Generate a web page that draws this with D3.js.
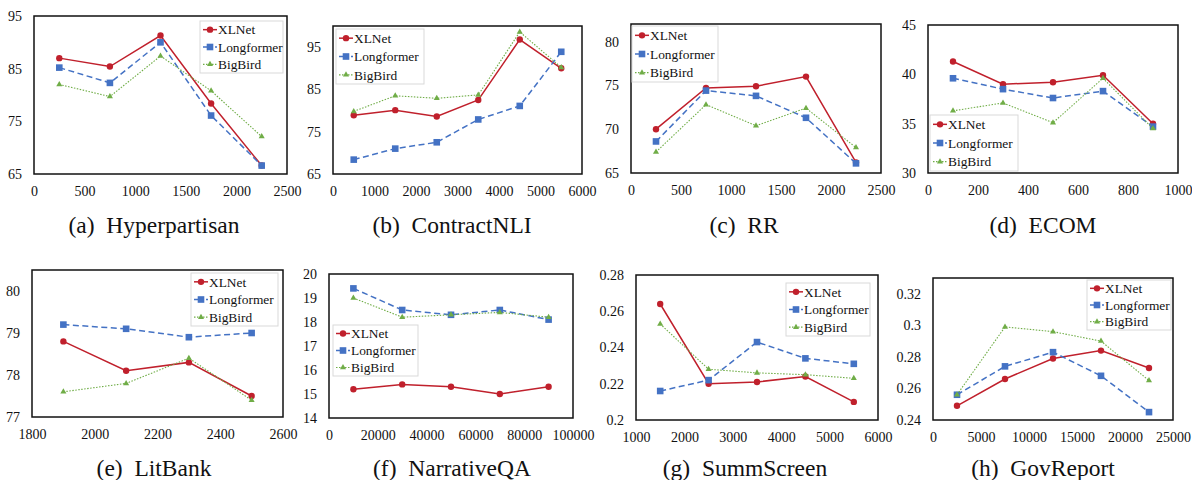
<!DOCTYPE html>
<html>
<head>
<meta charset="utf-8">
<script src="https://cdn.jsdelivr.net/npm/d3@7"></script>
<style>
  body { margin: 0; background: #fff; }
  svg { display: block; }
  svg text { font-family: 'Liberation Serif', 'Times New Roman', Times, 'DejaVu Serif', serif; }
</style>
</head>
<body>
<script>
const series = ['XLNet', 'Longformer', 'BigBird']

// (a) Hyperpartisan
const aX = [250, 750, 1250, 1750, 2250]
const aXLNet = [87.0, 85.4, 91.3, 78.4, 66.6]
const aLongformer = [85.2, 82.3, 90.0, 76.1, 66.6]
const aBigBird = [82.0, 79.7, 87.4, 80.8, 72.1]
const aXTicks = [0, 500, 1000, 1500, 2000, 2500]
const aYTicks = [65, 75, 85, 95]

// (b) ContractNLI
const bX = [500, 1500, 2500, 3500, 4500, 5500]
const bXLNet = [78.9, 80.1, 78.6, 82.5, 96.8, 90.0]
const bLongformer = [68.4, 71.0, 72.5, 77.9, 81.1, 93.9]
const bBigBird = [79.8, 83.5, 82.9, 83.7, 98.6, 90.2]
const bXTicks = [0, 1000, 2000, 3000, 4000, 5000, 6000]
const bYTicks = [65, 75, 85, 95]

// (c) RR
const cX = [250, 750, 1250, 1750, 2250]
const cXLNet = [70.0, 74.7, 74.9, 76.0, 66.2]
const cLongformer = [68.6, 74.4, 73.8, 71.3, 66.1]
const cBigBird = [67.4, 72.8, 70.4, 72.4, 67.9]
const cXTicks = [0, 500, 1000, 1500, 2000, 2500]
const cYTicks = [65, 70, 75, 80]

// (d) ECOM
const dX = [100, 300, 500, 700, 900]
const dXLNet = [41.3, 39.0, 39.2, 39.9, 35.0]
const dLongformer = [39.6, 38.5, 37.6, 38.3, 34.7]
const dBigBird = [36.3, 37.1, 35.1, 39.6, 34.5]
const dXTicks = [0, 200, 400, 600, 800, 1000]
const dYTicks = [30, 35, 40, 45]

// (e) LitBank
const eX = [1900, 2100, 2300, 2500]
const eXLNet = [78.8, 78.1, 78.3, 77.5]
const eLongformer = [79.2, 79.1, 78.9, 79.0]
const eBigBird = [77.6, 77.8, 78.4, 77.4]
const eXTicks = [1800, 2000, 2200, 2400, 2600]
const eYTicks = [77, 78, 79, 80]

// (f) NarrativeQA
const fX = [10000, 30000, 50000, 70000, 90000]
const fXLNet = [15.2, 15.4, 15.3, 15.0, 15.3]
const fLongformer = [19.4, 18.5, 18.3, 18.5, 18.1]
const fBigBird = [19.0, 18.2, 18.3, 18.4, 18.2]
const fXTicks = [0, 20000, 40000, 60000, 80000, 100000]
const fYTicks = [14, 15, 16, 17, 18, 19, 20]

// (g) SummScreen
const gX = [1500, 2500, 3500, 4500, 5500]
const gXLNet = [0.264, 0.220, 0.221, 0.224, 0.210]
const gLongformer = [0.216, 0.222, 0.243, 0.234, 0.231]
const gBigBird = [0.253, 0.228, 0.226, 0.225, 0.223]
const gXTicks = [1000, 2000, 3000, 4000, 5000, 6000]
const gYTicks = [0.2, 0.22, 0.24, 0.26, 0.28]

// (h) GovReport
const hX = [2500, 7500, 12500, 17500, 22500]
const hXLNet = [0.249, 0.266, 0.279, 0.284, 0.273]
const hLongformer = [0.256, 0.274, 0.283, 0.268, 0.245]
const hBigBird = [0.256, 0.299, 0.296, 0.290, 0.265]
const hXTicks = [0, 5000, 10000, 15000, 20000, 25000]
const hYTicks = [0.24, 0.26, 0.28, 0.3, 0.32]

const panels = [
    { tag: '(a)', name: 'Hyperpartisan', x: aX, ys: [aXLNet, aLongformer, aBigBird], xTicks: aXTicks, yTicks: aYTicks, yDomain: [65, 95] },
    { tag: '(b)', name: 'ContractNLI', x: bX, ys: [bXLNet, bLongformer, bBigBird], xTicks: bXTicks, yTicks: bYTicks, yDomain: [65, 100] },
    { tag: '(c)', name: 'RR', x: cX, ys: [cXLNet, cLongformer, cBigBird], xTicks: cXTicks, yTicks: cYTicks, yDomain: [65, 82] },
    { tag: '(d)', name: 'ECOM', x: dX, ys: [dXLNet, dLongformer, dBigBird], xTicks: dXTicks, yTicks: dYTicks, yDomain: [30, 45] },
    { tag: '(e)', name: 'LitBank', x: eX, ys: [eXLNet, eLongformer, eBigBird], xTicks: eXTicks, yTicks: eYTicks, yDomain: [77, 80.5] },
    { tag: '(f)', name: 'NarrativeQA', x: fX, ys: [fXLNet, fLongformer, fBigBird], xTicks: fXTicks, yTicks: fYTicks, yDomain: [14, 20] },
    { tag: '(g)', name: 'SummScreen', x: gX, ys: [gXLNet, gLongformer, gBigBird], xTicks: gXTicks, yTicks: gYTicks, yDomain: [0.2, 0.28] },
    { tag: '(h)', name: 'GovReport', x: hX, ys: [hXLNet, hLongformer, hBigBird], xTicks: hXTicks, yTicks: hYTicks, yDomain: [0.24, 0.33] }
]

// layout: plot box [left, top, right, bottom], legend [x, y, w, h], caption centre
const boxes = [
    [34, 16, 287, 174], [333, 26, 582, 174], [631, 24, 881, 173], [928, 25, 1178, 173],
    [32, 270, 283, 417], [329, 274, 573, 418], [636, 275, 878, 420], [933, 278, 1173, 420]
]
const legends = [
    [200, 21, 83, 52], [336, 29, 88, 55], [632, 26, 86, 56], [930, 115, 88, 56],
    [191, 273, 87, 53], [333, 325, 85, 51], [786, 283, 84, 53], [1087, 280, 84, 50]
]
const captionX = [154, 452, 744, 1043, 154, 452, 745, 1043]
const captionY = [233, 233, 233, 233, 476, 476, 476, 476]

const colors = ['#C0202C', '#4472C4', '#70AD47']
const dashes = [null, '6,3.5', '1.5,1.5']
const widths = [1.5, 1.5, 1.1]

const svg = d3.select('body').append('svg')
    .attr('width', 1192)
    .attr('height', 480)

function marker(sel, k, cx, cy) {
    if (k === 0) {
        sel.append('circle')
            .attr('cx', cx).attr('cy', cy).attr('r', 3.2)
            .attr('fill', colors[k])
    } else if (k === 1) {
        sel.append('rect')
            .attr('x', cx - 3.3).attr('y', cy - 3.3)
            .attr('width', 6.6).attr('height', 6.6)
            .attr('fill', colors[k])
    } else {
        sel.append('path')
            .attr('d', d3.symbol(d3.symbolTriangle, 16)())
            .attr('transform', `translate(${cx},${cy})`)
            .attr('fill', colors[k])
    }
}

function fmt(v) {
    return String(+v.toFixed(3))
}

panels.forEach(function (p, i) {
    const [l, t, r, b] = boxes[i]
    const x = d3.scaleLinear().domain([p.xTicks[0], p.xTicks[p.xTicks.length - 1]]).range([l, r])
    const y = d3.scaleLinear().domain(p.yDomain).range([b, t])
    const g = svg.append('g')

    const xa = g.append('g')
        .attr('transform', `translate(0,${b})`)
        .call(d3.axisBottom(x).tickValues(p.xTicks).tickSize(0).tickPadding(12).tickFormat(fmt))
    const ya = g.append('g')
        .attr('transform', `translate(${l},0)`)
        .call(d3.axisLeft(y).tickValues(p.yTicks).tickSize(0).tickPadding(12).tickFormat(fmt))

    for (let a of [xa, ya]) {
        a.attr('font-family', null)
        a.select('.domain').remove()
        a.selectAll('text')
            .attr('font-size', 14)
            .attr('fill', '#111')
    }

    g.append('rect')
        .attr('x', l).attr('y', t)
        .attr('width', r - l).attr('height', b - t)
        .attr('fill', 'none')
        .attr('stroke', '#111')
        .attr('stroke-width', 1.5)

    const line = d3.line().x(d => x(d[0])).y(d => y(d[1]))

    p.ys.forEach(function (vals, k) {
        const pts = p.x.map((xv, j) => [xv, vals[j]])
        g.append('path')
            .attr('d', line(pts))
            .attr('fill', 'none')
            .attr('stroke', colors[k])
            .attr('stroke-width', widths[k])
            .attr('stroke-dasharray', dashes[k])
        for (let pt of pts) {
            marker(g, k, x(pt[0]), y(pt[1]))
        }
    })

    // legend
    const [lx, ly, lw, lh] = legends[i]
    const lg = g.append('g')
    lg.append('rect')
        .attr('x', lx).attr('y', ly)
        .attr('width', lw).attr('height', lh)
        .attr('fill', '#fff')
        .attr('stroke', '#d9d9d9')
        .attr('stroke-width', 1)
    series.forEach(function (name, k) {
        const cy = ly + lh * (k + 0.5) / 3
        lg.append('line')
            .attr('x1', lx + 3).attr('x2', lx + 17)
            .attr('y1', cy).attr('y2', cy)
            .attr('stroke', colors[k])
            .attr('stroke-width', widths[k])
            .attr('stroke-dasharray', k === 1 ? '4,2' : dashes[k])
        marker(lg, k, lx + 10, cy)
        lg.append('text')
            .attr('x', lx + 18)
            .attr('y', cy)
            .attr('dy', '0.35em')
            .attr('font-size', 13.4)
            .attr('fill', '#111')
            .text(name)
    })

    svg.append('text')
        .attr('x', captionX[i])
        .attr('y', captionY[i])
        .attr('text-anchor', 'middle')
        .attr('font-size', 23.5)
        .attr('fill', '#111')
        .text(p.tag + '\u00a0\u00a0' + p.name)
})
</script>
</body>
</html>
